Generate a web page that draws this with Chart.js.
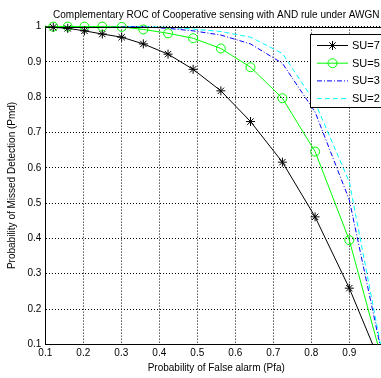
<!DOCTYPE html>
<html>
<head>
<meta charset="utf-8">
<script src="https://cdn.jsdelivr.net/npm/chart.js@4.4.1/dist/chart.umd.min.js"></script>
<style>
html, body { margin: 0; padding: 0; background: #fff; overflow: hidden; }
canvas { display: block; }
</style>
</head>
<body>
<canvas id="rocChart" width="400" height="378"></canvas>
<script>
// Pfa values (x) shared by all curves
const pfa = [0.088, 0.121, 0.159, 0.203, 0.25, 0.301, 0.358, 0.423, 0.489, 0.562, 0.640, 0.724, 0.81, 0.90, 1.0];

// Pmd values for each number of secondary users
const pmdSU7 = [1.0, 0.998, 0.995, 0.988, 0.979, 0.970, 0.951, 0.922, 0.879, 0.818, 0.731, 0.616, 0.461, 0.259, 0.0];
const pmdSU5 = [1.0, 1.0, 1.0, 1.0, 1.0, 0.999, 0.992, 0.981, 0.967, 0.938, 0.885, 0.797, 0.646, 0.395, 0.0];
const pmdSU3 = [1.0, 1.0, 1.0, 1.0, 1.0, 1.0, 0.999, 0.995, 0.988, 0.976, 0.951, 0.896, 0.758, 0.509, 0.0];
const pmdSU2 = [1.0, 1.0, 1.0, 1.0, 1.0, 1.0, 1.0, 0.998, 0.993, 0.986, 0.970, 0.924, 0.785, 0.56, 0.0];

const seriesLabels = ['SU=7', 'SU=5', 'SU=3', 'SU=2'];
const xTicks = [0.1, 0.2, 0.3, 0.4, 0.5, 0.6, 0.7, 0.8, 0.9, 1];
const yTicks = [0.1, 0.2, 0.3, 0.4, 0.5, 0.6, 0.7, 0.8, 0.9, 1];

const FONT = '"Liberation Sans", Arial, sans-serif';

const toPoints = vals => pfa.map((x, i) => ({ x: x, y: vals[i] }));

function makeSet(label, vals, color, extra) {
    return Object.assign({
        label: label,
        data: toPoints(vals),
        borderColor: color,
        backgroundColor: 'rgba(0,0,0,0)',
        borderWidth: 1,
        pointRadius: 0,
        pointBorderWidth: 1,
        pointBorderColor: color,
        pointBackgroundColor: 'rgba(0,0,0,0)',
        tension: 0,
        fill: false,
        clip: { left: 0, top: 8, right: 0, bottom: 0 }
    }, extra);
}

// legend drawn inside the plot, like matlab's box legend
const boxLegend = {
    id: 'boxLegend',
    afterDatasetsDraw(chart) {
        const ctx = chart.ctx;
        ctx.save();
        ctx.fillStyle = '#fff';
        ctx.fillRect(310.5, 34.5, 95, 73);
        ctx.strokeStyle = '#000';
        ctx.lineWidth = 1;
        ctx.strokeRect(310.5, 34.5, 95, 73);
        ctx.font = '11px ' + FONT;
        ctx.textBaseline = 'middle';
        chart.data.datasets.forEach((ds, i) => {
            const y = 45.5 + i * 17.7;
            ctx.save();
            ctx.strokeStyle = ds.borderColor;
            ctx.lineWidth = 1;
            ctx.setLineDash(ds.borderDash || []);
            ctx.beginPath();
            ctx.moveTo(317, y);
            ctx.lineTo(348, y);
            ctx.stroke();
            ctx.restore();
            if (ds.pointRadius > 0) {
                ctx.save();
                ctx.strokeStyle = ds.borderColor;
                ctx.fillStyle = 'rgba(0,0,0,0)';
                Chart.helpers.drawPoint(ctx, { pointStyle: ds.pointStyle, radius: ds.pointRadius, borderWidth: 1, rotation: 0 }, 332.5, y);
                ctx.restore();
            }
            ctx.fillStyle = '#000';
            ctx.fillText(ds.label, 352, y + 0.5);
        });
        ctx.restore();
    },
    afterDraw(chart) {
        const a = chart.chartArea;
        const ctx = chart.ctx;
        ctx.save();
        ctx.strokeStyle = '#000';
        ctx.lineWidth = 1;
        ctx.beginPath();
        ctx.moveTo(Math.round(a.left) + 0.5, Math.round(a.top) + 0.5);
        ctx.lineTo(Math.round(a.right) + 0.5, Math.round(a.top) + 0.5);
        ctx.lineTo(Math.round(a.right) + 0.5, Math.round(a.bottom) + 0.5);
        ctx.stroke();
        ctx.restore();
    }
};

const gridOpts = { color: '#000', lineWidth: 1, drawTicks: false };
const borderOpts = { color: '#000', width: 1, dash: [1, 2] };
const fmt = v => String(+(+v).toFixed(1));

new Chart(document.getElementById('rocChart').getContext('2d'), {
    type: 'line',
    data: {
        datasets: [
            makeSet(seriesLabels[0], pmdSU7, '#000000', { pointRadius: 4.5, pointStyle: 'star' }),
            makeSet(seriesLabels[1], pmdSU5, '#00ff00', { pointRadius: 4.5, pointStyle: 'circle' }),
            makeSet(seriesLabels[2], pmdSU3, '#0000ff', { borderDash: [5, 2, 1, 2] }),
            makeSet(seriesLabels[3], pmdSU2, '#00ffff', { borderDash: [5, 3] })
        ]
    },
    options: {
        responsive: false,
        animation: false,
        events: [],
        layout: { padding: { left: 0, right: 12.7, top: 0, bottom: 0 } },
        plugins: {
            legend: { display: false },
            tooltip: { enabled: false },
            title: {
                display: true,
                fullSize: false,
                text: 'Complementary ROC of Cooperative sensing with AND rule under AWGN',
                color: '#000',
                font: { family: FONT, size: 10, weight: 'normal' },
                padding: { top: 9, bottom: 5.6 }
            }
        },
        scales: {
            x: {
                type: 'linear',
                min: 0.1,
                max: 1,
                afterFit(scale) { scale.height = 33.7; },
                afterBuildTicks(scale) { scale.ticks = xTicks.map(v => ({ value: v })); },
                ticks: { color: '#000', font: { family: FONT, size: 10 }, padding: 3, maxRotation: 0, autoSkip: false, callback: fmt },
                grid: gridOpts,
                border: borderOpts,
                title: {
                    display: true,
                    text: 'Probability of False alarm (Pfa)',
                    color: '#000',
                    font: { family: FONT, size: 10 },
                    padding: { top: 0, bottom: 3.5 }
                }
            },
            y: {
                type: 'linear',
                min: 0.1,
                max: 1,
                afterFit(scale) { scale.width = 45.3; },
                afterBuildTicks(scale) { scale.ticks = yTicks.map(v => ({ value: v })); },
                ticks: { color: '#000', font: { family: FONT, size: 10 }, padding: 4, autoSkip: false, callback: fmt },
                grid: gridOpts,
                border: borderOpts,
                title: {
                    display: true,
                    text: 'Probability of Missed Detection (Pmd)',
                    color: '#000',
                    font: { family: FONT, size: 10 },
                    padding: { top: 6, bottom: 0 }
                }
            }
        }
    },
    plugins: [boxLegend]
});
</script>
</body>
</html>
